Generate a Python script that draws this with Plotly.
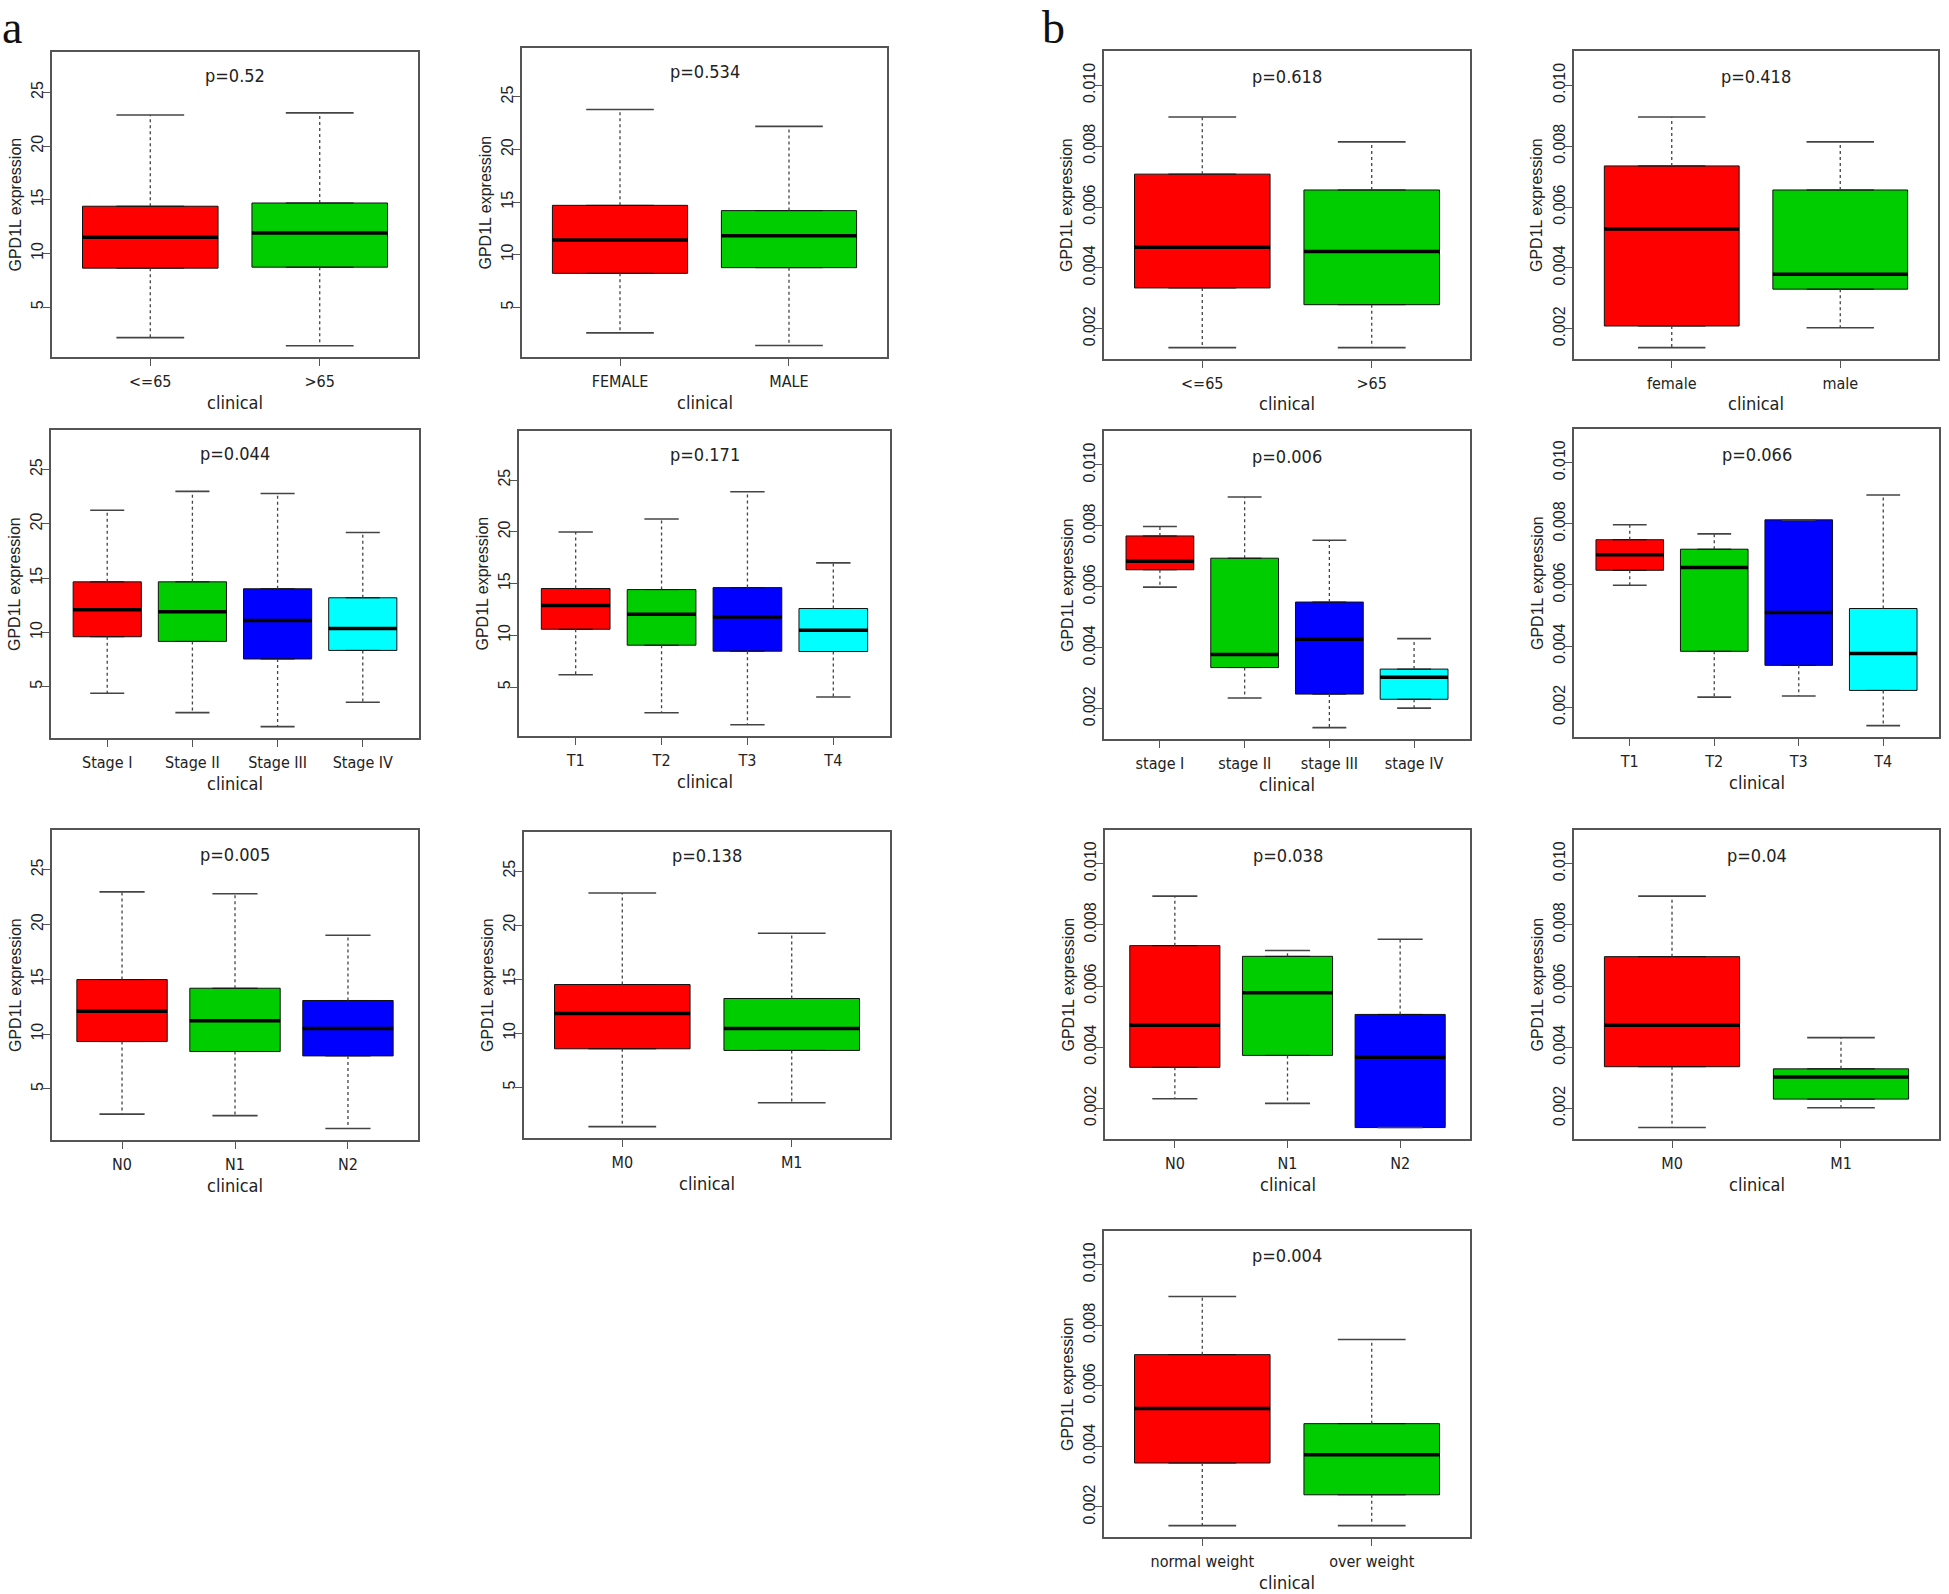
import plotly.graph_objects as go

# ---- panel a: GPD1L expression (counts scale) ----
a_age_cats = ["<=65", ">65"]
a_age_low = [2.15, 1.40]
a_age_q1 = [8.63, 8.72]
a_age_med = [11.5, 11.9]
a_age_q3 = [14.4, 14.7]
a_age_up = [22.9, 23.1]

a_sex_cats = ["FEMALE", "MALE"]
a_sex_low = [2.58, 1.38]
a_sex_q1 = [8.24, 8.78]
a_sex_med = [11.4, 11.8]
a_sex_q3 = [14.7, 14.2]
a_sex_up = [23.8, 22.2]

a_stage_cats = ["Stage I", "Stage II", "Stage III", "Stage IV"]
a_stage_low = [4.39, 2.61, 1.32, 3.56]
a_stage_q1 = [9.60, 9.17, 7.55, 8.34]
a_stage_med = [12.09, 11.90, 11.10, 10.37]
a_stage_q3 = [14.66, 14.66, 14.02, 13.19]
a_stage_up = [21.26, 23.0, 22.8, 19.2]

a_t_cats = ["T1", "T2", "T3", "T4"]
a_t_low = [6.19, 2.52, 1.37, 4.04]
a_t_q1 = [10.59, 9.05, 8.47, 8.44]
a_t_med = [12.88, 12.04, 11.78, 10.50]
a_t_q3 = [14.52, 14.42, 14.61, 12.59]
a_t_up = [19.98, 21.24, 23.87, 17.0]

a_n_cats = ["N0", "N1", "N2"]
a_n_low = [2.69, 2.56, 1.38]
a_n_q1 = [9.32, 8.41, 8.01]
a_n_med = [12.09, 11.21, 10.51]
a_n_q3 = [14.98, 14.19, 13.07]
a_n_up = [22.99, 22.81, 19.03]

a_m_cats = ["M0", "M1"]
a_m_low = [1.37, 3.58]
a_m_q1 = [8.57, 8.42]
a_m_med = [11.83, 10.45]
a_m_q3 = [14.51, 13.22]
a_m_up = [22.97, 19.25]

# ---- panel b: GPD1L expression (ratio scale) ----
b_age_cats = ["<=65", ">65"]
b_age_low = [0.00138, 0.00138]
b_age_q1 = [0.00334, 0.00279]
b_age_med = [0.00468, 0.00454]
b_age_q3 = [0.00708, 0.00656]
b_age_up = [0.00896, 0.00814]

b_sex_cats = ["female", "male"]
b_sex_low = [0.00138, 0.00203]
b_sex_q1 = [0.00209, 0.00330]
b_sex_med = [0.00528, 0.00379]
b_sex_q3 = [0.00735, 0.00656]
b_sex_up = [0.00896, 0.00814]

b_stage_cats = ["stage I", "stage II", "stage III", "stage IV"]
b_stage_low = [0.00599, 0.00235, 0.00138, 0.00202]
b_stage_q1 = [0.00656, 0.00335, 0.00248, 0.00231]
b_stage_med = [0.00684, 0.00378, 0.00428, 0.00303]
b_stage_q3 = [0.00767, 0.00694, 0.00550, 0.00330]
b_stage_up = [0.00798, 0.00895, 0.00753, 0.00430]

b_t_cats = ["T1", "T2", "T3", "T4"]
b_t_low = [0.00599, 0.00233, 0.00237, 0.00140]
b_t_q1 = [0.00648, 0.00383, 0.00337, 0.00255]
b_t_med = [0.00699, 0.00657, 0.00510, 0.00376]
b_t_q3 = [0.00748, 0.00717, 0.00813, 0.00523]
b_t_up = [0.00797, 0.00767, 0.00813, 0.00894]

b_n_cats = ["N0", "N1", "N2"]
b_n_low = [0.00231, 0.00216, 0.00137]
b_n_q1 = [0.00334, 0.00373, 0.00137]
b_n_med = [0.00472, 0.00578, 0.00367]
b_n_q3 = [0.00732, 0.00697, 0.00507]
b_n_up = [0.00894, 0.00716, 0.00753]

b_m_cats = ["M0", "M1"]
b_m_low = [0.00137, 0.00202]
b_m_q1 = [0.00336, 0.00230]
b_m_med = [0.00472, 0.00302]
b_m_q3 = [0.00696, 0.00329]
b_m_up = [0.00894, 0.00431]

b_wt_cats = ["normal weight", "over weight"]
b_wt_low = [0.00138, 0.00138]
b_wt_q1 = [0.00345, 0.00240]
b_wt_med = [0.00525, 0.00372]
b_wt_q3 = [0.00703, 0.00475]
b_wt_up = [0.00895, 0.00753]

p_labels = ["p=0.52", "p=0.534", "p=0.044", "p=0.171", "p=0.005", "p=0.138",
            "p=0.618", "p=0.418", "p=0.006", "p=0.066", "p=0.038", "p=0.04", "p=0.004"]

box_colors = ["#FF0000", "#00CD00", "#0000FF", "#00FFFF"]

W, H = 1949, 1594

# panels: data + frame rectangle in pixels (left, right, top, bottom)
panels = [
    (a_age_cats, a_age_low, a_age_q1, a_age_med, a_age_q3, a_age_up, "a", (52, 418, 52, 357)),
    (a_sex_cats, a_sex_low, a_sex_q1, a_sex_med, a_sex_q3, a_sex_up, "a", (522, 887, 48, 357)),
    (a_stage_cats, a_stage_low, a_stage_q1, a_stage_med, a_stage_q3, a_stage_up, "a", (51, 419, 430, 738)),
    (a_t_cats, a_t_low, a_t_q1, a_t_med, a_t_q3, a_t_up, "a", (519, 890, 431, 736)),
    (a_n_cats, a_n_low, a_n_q1, a_n_med, a_n_q3, a_n_up, "a", (52, 418, 830, 1140)),
    (a_m_cats, a_m_low, a_m_q1, a_m_med, a_m_q3, a_m_up, "a", (524, 890, 832, 1138)),
    (b_age_cats, b_age_low, b_age_q1, b_age_med, b_age_q3, b_age_up, "b", (1104, 1470, 51, 359)),
    (b_sex_cats, b_sex_low, b_sex_q1, b_sex_med, b_sex_q3, b_sex_up, "b", (1574, 1938, 51, 359)),
    (b_stage_cats, b_stage_low, b_stage_q1, b_stage_med, b_stage_q3, b_stage_up, "b", (1104, 1470, 431, 739)),
    (b_t_cats, b_t_low, b_t_q1, b_t_med, b_t_q3, b_t_up, "b", (1574, 1939, 429, 737)),
    (b_n_cats, b_n_low, b_n_q1, b_n_med, b_n_q3, b_n_up, "b", (1105, 1470, 830, 1139)),
    (b_m_cats, b_m_low, b_m_q1, b_m_med, b_m_q3, b_m_up, "b", (1574, 1939, 830, 1139)),
    (b_wt_cats, b_wt_low, b_wt_q1, b_wt_med, b_wt_q3, b_wt_up, "b", (1104, 1470, 1231, 1537)),
]

narrow = "Liberation Sans Narrow, DejaVu Sans Condensed, Liberation Sans, Arial"
regular = "Liberation Sans, Arial, sans-serif"
frame_col = "#555555"
text_col = "#222222"

fig = go.Figure()
annotations = []

for i, (cats, low, q1, med, q3, up, group, rect) in enumerate(panels):
    k = i + 1
    xa = "x" if k == 1 else f"x{k}"
    ya = "y" if k == 1 else f"y{k}"
    n = len(cats)
    pos = list(range(1, n + 1))

    # boxes (whiskers drawn separately so they can be dashed like R)
    for j in range(n):
        fig.add_trace(go.Box(
            x=[pos[j]], q1=[q1[j]], median=[med[j]], q3=[q3[j]],
            lowerfence=[q1[j]], upperfence=[q3[j]],
            width=0.8, fillcolor=box_colors[j],
            line=dict(color="#111111", width=1),
            xaxis=xa, yaxis=ya, showlegend=False, hoverinfo="skip",
        ))

    wx, wy, cx, cy, mx, my = [], [], [], [], [], []
    for j in range(n):
        wx += [pos[j], pos[j], None, pos[j], pos[j], None]
        wy += [q3[j], up[j], None, q1[j], low[j], None]
        cx += [pos[j] - 0.2, pos[j] + 0.2, None, pos[j] - 0.2, pos[j] + 0.2, None]
        cy += [up[j], up[j], None, low[j], low[j], None]
        mx += [pos[j] - 0.4, pos[j] + 0.4, None]
        my += [med[j], med[j], None]
    fig.add_trace(go.Scatter(x=wx, y=wy, mode="lines", xaxis=xa, yaxis=ya,
                             line=dict(color="#444444", width=1.3, dash="3px,3px"),
                             showlegend=False, hoverinfo="skip"))
    fig.add_trace(go.Scatter(x=cx, y=cy, mode="lines", xaxis=xa, yaxis=ya,
                             line=dict(color="#444444", width=1.6),
                             showlegend=False, hoverinfo="skip"))
    fig.add_trace(go.Scatter(x=mx, y=my, mode="lines", xaxis=xa, yaxis=ya,
                             line=dict(color="#000000", width=3.5),
                             showlegend=False, hoverinfo="skip"))

    # R-style limits: ylim = c(min, 1.2*max), extended by 4%
    ylo, yhi = min(low), max(up) * 1.2
    pad = 0.04 * (yhi - ylo)
    xpad = 0.04 * n

    left, right, top, bottom = rect
    fig.layout[("xaxis" if k == 1 else f"xaxis{k}")] = dict(
        domain=[left / W, right / W], anchor=ya,
        range=[0.5 - xpad, n + 0.5 + xpad],
        tickmode="array", tickvals=pos, ticktext=cats,
        ticks="outside", ticklen=7, tickcolor=frame_col, tickwidth=1.3,
        showline=True, mirror=True, linecolor=frame_col, linewidth=1.8,
        showgrid=False, zeroline=False, ticklabelstandoff=2,
        tickfont=dict(family=narrow, size=16, color=text_col),
    )
    yaxis = dict(
        domain=[1 - bottom / H, 1 - top / H], anchor=xa,
        range=[ylo - pad, yhi + pad],
        ticks="outside", ticklen=7, tickcolor=frame_col, tickwidth=1.3,
        showline=True, mirror=True, linecolor=frame_col, linewidth=1.8,
        showgrid=False, zeroline=False, tickangle=-90, ticklabelstandoff=-6,
        tickfont=dict(family=regular, size=16, color=text_col),
    )
    if group == "a":
        yaxis.update(tick0=0, dtick=5)
    else:
        yaxis.update(tick0=0, dtick=0.002, tickformat=".3f")
    fig.layout[("yaxis" if k == 1 else f"yaxis{k}")] = yaxis

    # p-value text at 1.15*max, centred
    annotations.append(dict(x=(n + 1) / 2, y=max(up) * 1.15, xref=xa, yref=ya,
                            text=p_labels[i], showarrow=False,
                            font=dict(family=narrow, size=18, color=text_col)))
    annotations.append(dict(x=0.5, y=0, xref=f"{xa} domain", yref=f"{ya} domain",
                            text="clinical", showarrow=False, yanchor="middle",
                            yshift=-45, font=dict(family=narrow, size=18, color=text_col)))
    annotations.append(dict(x=0, y=0.5, xref=f"{xa} domain", yref=f"{ya} domain",
                            text="GPD1L expression", showarrow=False, textangle=-90,
                            xanchor="center", xshift=-37,
                            font=dict(family=regular, size=16, color=text_col)))

serif = "Liberation Serif, DejaVu Serif"
annotations.append(dict(x=12 / W, y=1, xref="paper", yref="paper", text="a",
                        xanchor="center", yanchor="top", showarrow=False,
                        font=dict(family=serif, size=46, color="#111111")))
annotations.append(dict(x=1053 / W, y=1, xref="paper", yref="paper", text="b",
                        xanchor="center", yanchor="top", showarrow=False,
                        font=dict(family=serif, size=46, color="#111111")))

fig.update_layout(
    width=W, height=H, autosize=False,
    margin=dict(l=0, r=0, t=0, b=0),
    paper_bgcolor="white", plot_bgcolor="white",
    boxmode="overlay", showlegend=False,
    annotations=annotations,
)

# drop the browser's default page margin so the figure sits at the window origin
fig.write_html("out.html", config={"displayModeBar": False},
               post_script="document.body.style.margin='0';")
